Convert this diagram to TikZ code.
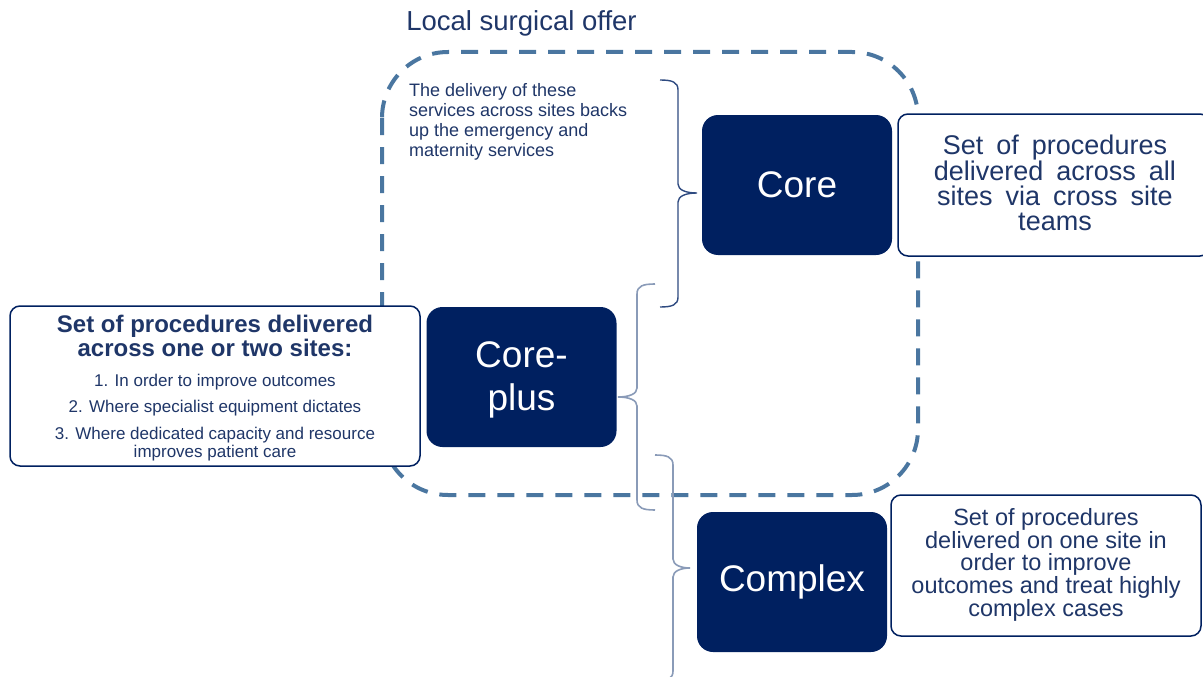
\documentclass[tikz,border=0pt]{standalone}
\usepackage{fontspec}
\setmainfont{Liberation Sans}
\definecolor{navy}{HTML}{002060}
\definecolor{txt}{HTML}{1F3668}
\definecolor{dashc}{HTML}{4A76A0}
\definecolor{brA}{HTML}{2E4A80}
\definecolor{brB}{HTML}{8A9BB8}
\newcommand\myWideSpaces{\spaceskip=13pt\relax}
\begin{document}
\begin{tikzpicture}[x=1pt,y=-1pt,
  navybox/.style={fill=navy, rounded corners=16pt, text=white, minimum width=190pt,
    minimum height=140pt, align=center, font=\fontsize{37}{43}\selectfont, inner sep=0pt},
  descbox/.style={draw=navy, line width=1.5pt, rounded corners=10pt, fill=white,
    text=txt, align=center, inner sep=0pt},
  plain/.style={text=txt, align=center, inner sep=0pt},
  offer/.style={draw=dashc, line width=4pt, dash pattern=on 17pt off 12pt, rounded corners=66pt},
  braceA/.style={draw=brA, line width=1.4pt},
  braceB/.style={draw=brB, line width=1.6pt}]
\useasboundingbox (0,0) rectangle (1203,677);
\clip (0,0) rectangle (1203,677);

% dashed local surgical offer region
\draw[offer] (382,52) rectangle (918,495);
\node[plain, font=\fontsize{27.5}{30}\selectfont] (title) at (521.5,23) {Local surgical offer};

% note text
\node[plain, align=left, anchor=north west, font=\fontsize{18}{20}\selectfont] (note) at (409,83.5)
  {The delivery of these\\services across sites backs\\up the emergency and\\maternity services};

% braces
\draw[braceA] (660,80) .. controls (672,80) and (678,82) .. (678,90) -- (678,184)
  .. controls (678,190) and (686,193) .. (697,193)
  .. controls (686,193) and (678,196) .. (678,202) -- (678,297)
  .. controls (678,305) and (672,307) .. (660,307);
\draw[braceB] (655,284) .. controls (643,284) and (637,286) .. (637,294) -- (637,388)
  .. controls (637,394) and (629,397) .. (618,397)
  .. controls (629,397) and (637,400) .. (637,406) -- (637,500)
  .. controls (637,508) and (643,510) .. (655,510);
\draw[braceB] (655,455) .. controls (667,455) and (673,457) .. (673,465) -- (673,559)
  .. controls (673,565) and (681,568) .. (690,568)
  .. controls (681,568) and (673,571) .. (673,577) -- (673,671)
  .. controls (673,679) and (667,681) .. (655,681);

% main boxes
\node[navybox] (core) at (797,185) {Core};
\node[navybox, minimum height=140pt] (coreplus) at (521.5,377) {};
\node[plain, text=white, font=\fontsize{37}{43}\selectfont] (coreplustext) at (521.5,380) {Core-\\plus};
\node[navybox] (complex) at (792,582) {Complex};

% description boxes
\node[descbox, minimum width=312pt, minimum height=142pt] (coredescbox) at (1054,185) {};
\node[plain, font={\fontsize{27}{25}\selectfont\myWideSpaces}] (coredesc) at (1055,183)
  {Set of procedures\\delivered across all\\sites via cross site\\teams};

\node[descbox, minimum width=310pt, minimum height=141pt] (complexdescbox) at (1046,565.5) {};
\node[plain, font=\fontsize{23.5}{21.5}\selectfont] (complexdesc) at (1046,565)
  {Set of procedures\\delivered on one site in\\order to improve\\outcomes and treat highly\\complex cases};

\node[descbox, minimum width=410pt, minimum height=160pt] (leftbox) at (215,386) {};
\node[plain, font=\fontsize{24}{24}\selectfont\bfseries] (lefttitle) at (215,336)
  {Set of procedures delivered\\across one or two sites:};
\node[plain, font=\fontsize{17}{18}\selectfont] (item1) at (215,382) {1. In order to improve outcomes};
\node[plain, font=\fontsize{17}{18}\selectfont] (item2) at (215,408) {2. Where specialist equipment dictates};
\node[plain, font=\fontsize{17}{18}\selectfont] (item3) at (215,444)
  {3. Where dedicated capacity and resource\\improves patient care};
\end{tikzpicture}
\end{document}
